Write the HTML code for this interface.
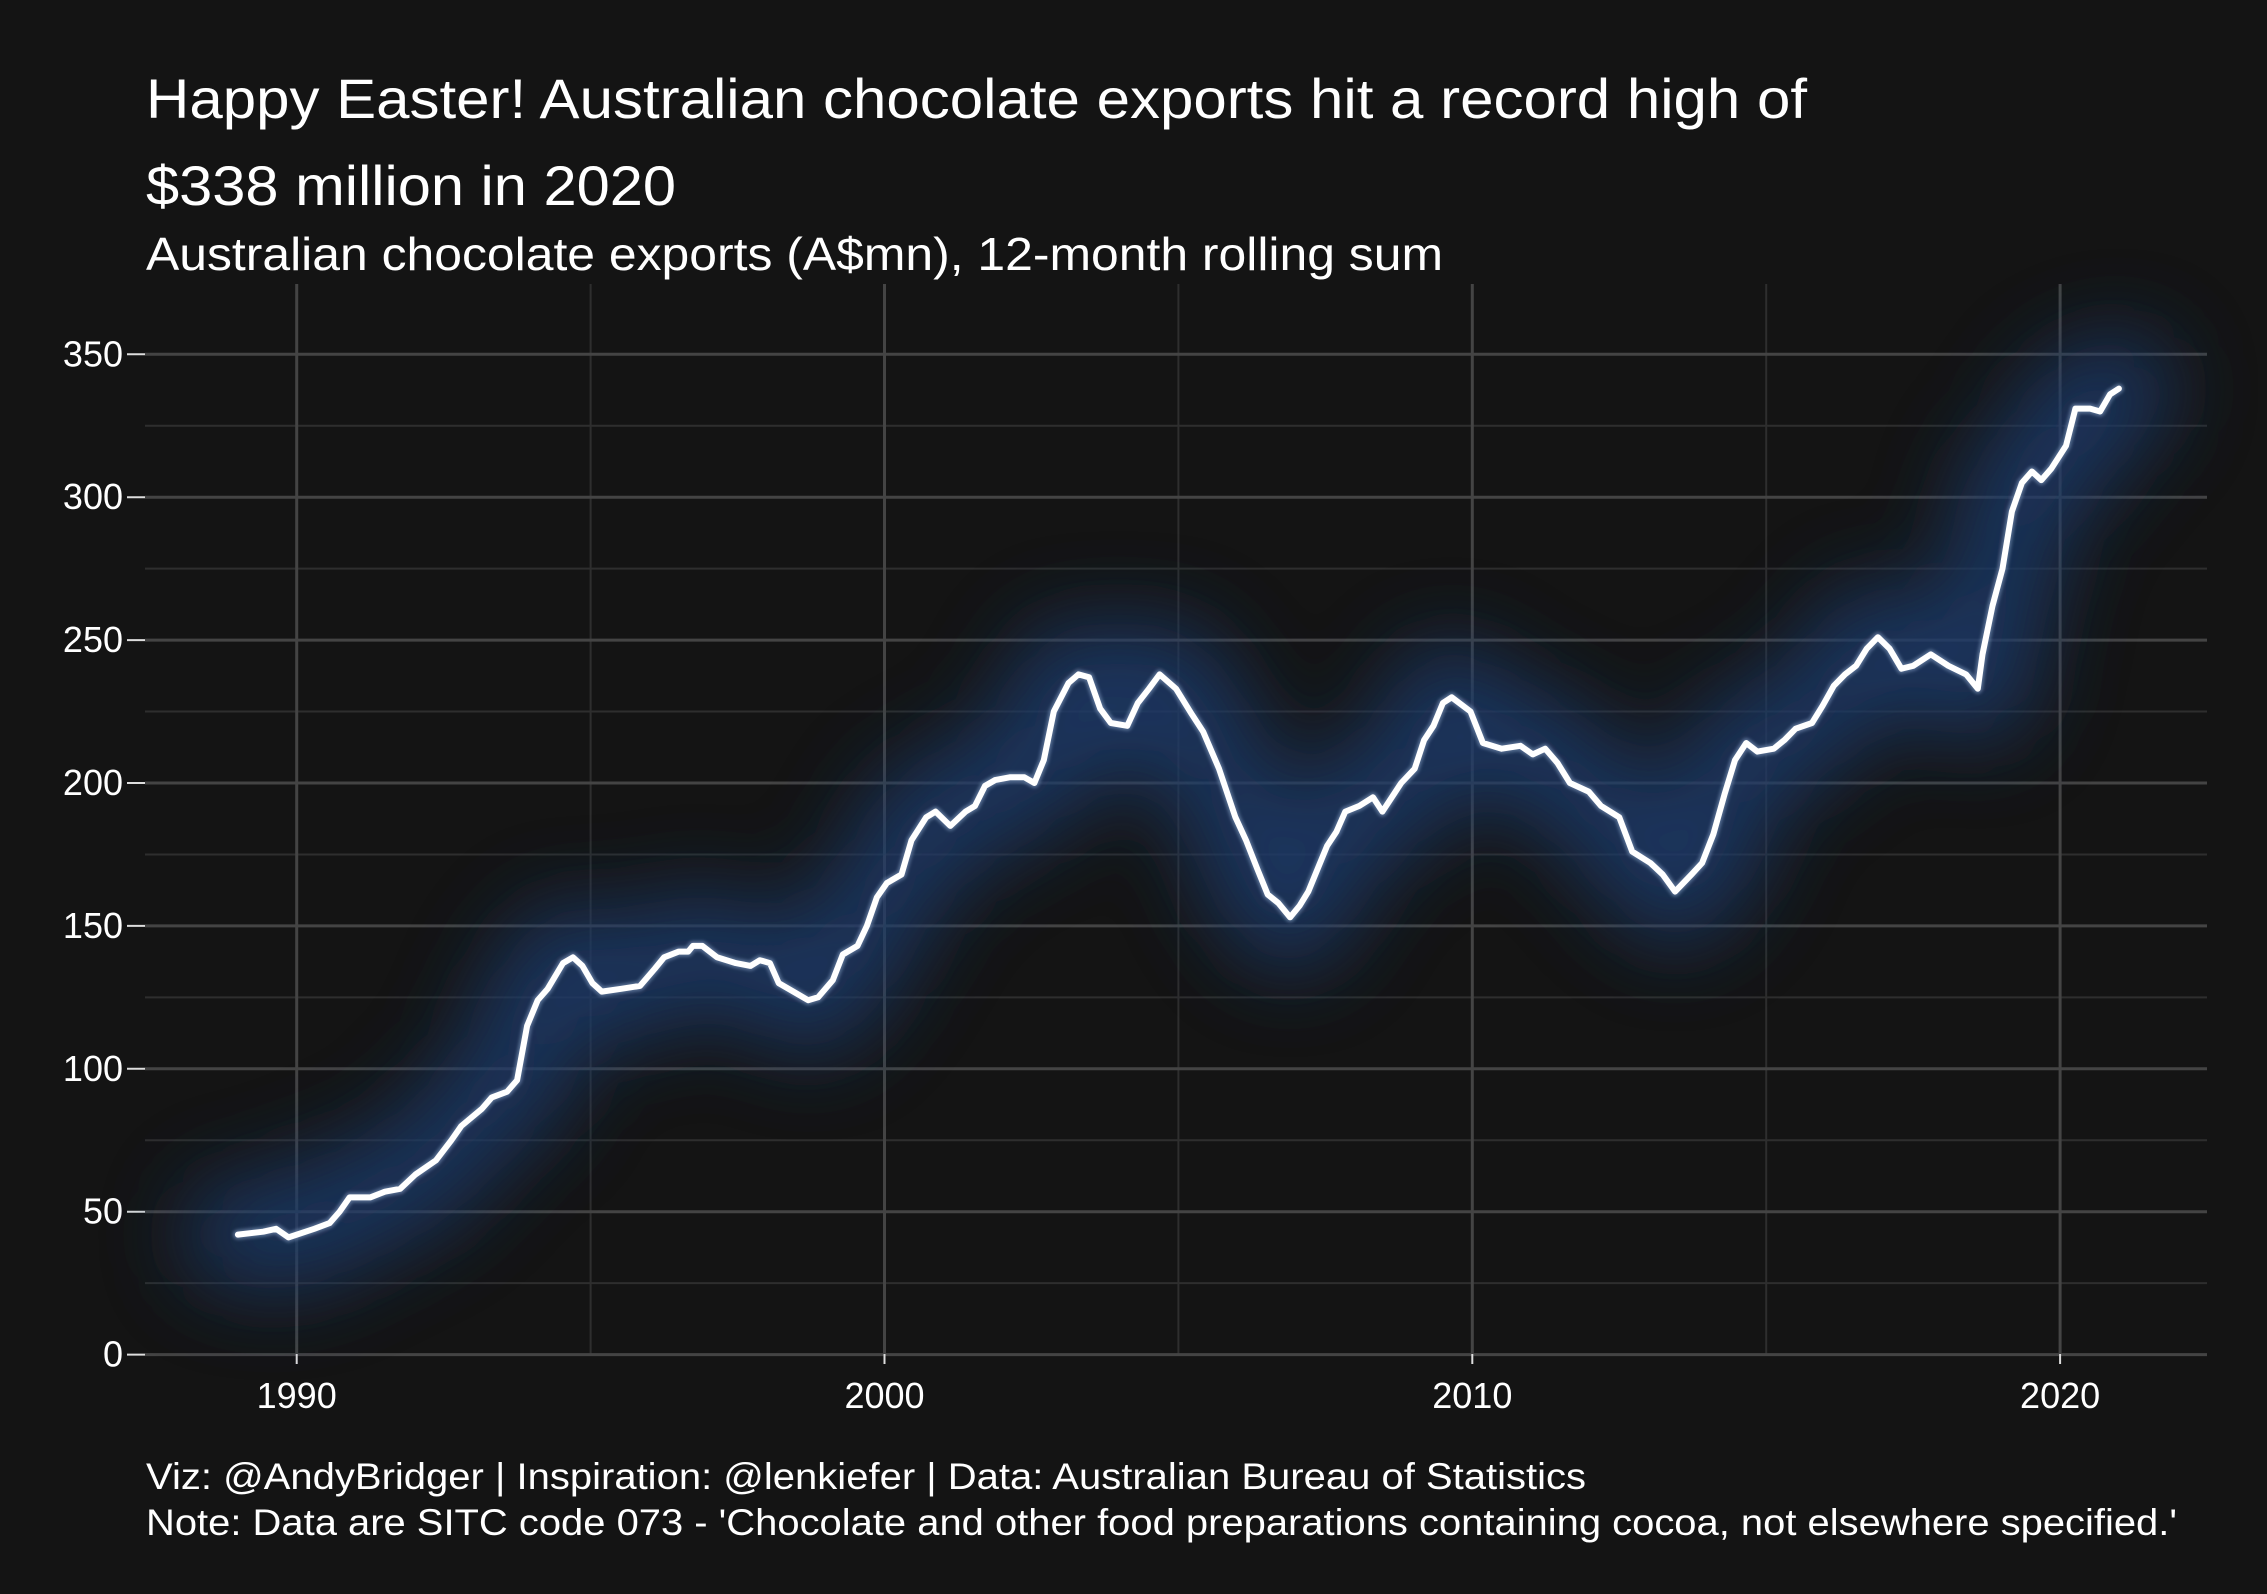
<!DOCTYPE html>
<html><head><meta charset="utf-8"><style>
html,body{margin:0;padding:0;background:#141414;}
svg{display:block;font-family:"Liberation Sans",Arial,sans-serif;}
</style></head><body>
<svg id="chart" width="2267" height="1594" viewBox="0 0 2267 1594" xmlns="http://www.w3.org/2000/svg">
<defs>
<filter id="glow" x="-20%" y="-50%" width="140%" height="200%"><feGaussianBlur stdDeviation="42"/></filter>
<filter id="soft" x="-5%" y="-5%" width="110%" height="110%"><feGaussianBlur stdDeviation="1.5"/></filter>
</defs>
<rect x="0" y="0" width="2267" height="1594" fill="#141414"/>
<text x="146" y="118" fill="#ffffff" font-size="56" textLength="1661" lengthAdjust="spacingAndGlyphs">Happy Easter! Australian chocolate exports hit a record high of</text>
<text x="146" y="205" fill="#ffffff" font-size="56" textLength="530" lengthAdjust="spacingAndGlyphs">$338 million in 2020</text>
<text x="146" y="270" fill="#ffffff" font-size="46" textLength="1297" lengthAdjust="spacingAndGlyphs">Australian chocolate exports (A$mn), 12-month rolling sum</text>
<g id="grid"></g>
<g id="axes"></g>
<g id="series"></g>
<text x="146" y="1489" fill="#ffffff" font-size="37" textLength="1440" lengthAdjust="spacingAndGlyphs">Viz: @AndyBridger | Inspiration: @lenkiefer | Data: Australian Bureau of Statistics</text>
<text x="146" y="1535" fill="#ffffff" font-size="37" textLength="2031" lengthAdjust="spacingAndGlyphs">Note: Data are SITC code 073 - 'Chocolate and other food preparations containing cocoa, not elsewhere specified.'</text>
</svg>
<script>
const years = [1989.0,1989.43,1989.65,1989.86,1990.3,1990.56,1990.73,1990.9,1991.25,1991.5,1991.76,1992.02,1992.37,1992.63,1992.8,1993.15,1993.32,1993.58,1993.75,1993.92,1994.1,1994.27,1994.53,1994.7,
1994.86,1995.03,1995.19,1995.52,1995.84,1996.09,1996.25,1996.5,1996.66,1996.74,1996.9,1997.15,1997.47,1997.72,1997.88,1998.05,1998.2,1998.45,1998.7,
1998.87,1999.12,1999.29,1999.54,1999.7,1999.87,2000.04,2000.29,2000.46,2000.71,2000.87,2001.12,2001.38,2001.54,2001.71,2001.88,2002.13,2002.38,2002.55,2002.71,2002.88,2003.13,2003.3,
2003.48,2003.67,2003.85,2004.13,2004.31,2004.5,2004.68,2004.96,2005.23,2005.42,2005.69,2005.97,2006.15,2006.34,2006.52,2006.7,2006.9,
2007.06,2007.21,2007.37,2007.53,2007.69,2007.84,2008.08,2008.31,2008.47,2008.63,2008.79,2009.02,2009.18,2009.34,2009.5,2009.65,
2009.97,2010.18,2010.5,2010.82,2011.03,2011.24,2011.45,2011.66,2011.98,2012.19,2012.5,2012.72,2013.03,2013.24,2013.45,
2013.73,2013.91,2014.1,2014.29,2014.47,2014.66,2014.85,2015.13,2015.31,2015.5,2015.78,2015.96,2016.15,2016.34,2016.53,2016.71,2016.9,
2017.1,2017.3,2017.5,2017.8,2018.1,2018.4,2018.6,
2018.68,2018.85,2019.02,2019.18,2019.35,2019.52,2019.68,2019.85,2020.1,2020.26,2020.51,2020.68,2020.85,2021.0];
const exportsValues = [42,43,44,41,44,46,50,55,55,57,58,63,68,75,80,86,90,92,96,115,124,128,137,139,
136,130,127,128,129,135,139,141,141,143,143,139,137,136,138,137,130,127,124,
125,131,140,143,150,160,165,168,180,188,190,185,190,192,199,201,202,202,200,208,225,235,238,
237,226,221,220,228,233,238,233,224,218,205,188,180,170,161,158,153,
157,162,170,178,183,190,192,195,190,195,200,205,215,220,228,230,
225,214,212,213,210,212,207,200,197,192,188,176,172,168,162,
168,172,182,196,208,214,211,212,215,219,221,227,234,238,241,247,251,
247,240,241,245,241,238,233,
245,262,275,295,305,309,306,310,318,331,331,330,336,338];
const yTicks = [0,50,100,150,200,250,300,350];
const yMinor = [25,75,125,175,225,275,325];
const xTicks = [1990,2000,2010,2020];
const xMinor = [1995,2005,2015];

const NS="http://www.w3.org/2000/svg";
const L=145,R=2207,T=284,B=1356;
const xScale = yr => 296.7 + (yr-1990)*58.78;
const yScale = v => 1354.6 - v*2.858;
function mk(tag,attrs,parent){const e=document.createElementNS(NS,tag);for(const k in attrs)e.setAttribute(k,attrs[k]);parent.appendChild(e);return e;}
const grid=document.getElementById('grid'),axes=document.getElementById('axes'),series=document.getElementById('series');

yMinor.forEach(v=>{const e=mk('line',{x1:L,x2:R,y1:yScale(v),y2:yScale(v),stroke:'#2e2e2e','stroke-width':2},grid);

});
xMinor.forEach(v=>{const e=mk('line',{x1:xScale(v),x2:xScale(v),y1:T,y2:B,stroke:'#2e2e2e','stroke-width':2},grid);

});
yTicks.forEach(v=>{const e=mk('line',{x1:L,x2:R,y1:yScale(v),y2:yScale(v),stroke:'#444','stroke-width':3},grid);


const t=mk('line',{x1:127,x2:L,y1:yScale(v),y2:yScale(v),stroke:'#ddd','stroke-width':2},axes);


const l=mk('text',{x:123,y:yScale(v)+12,'text-anchor':'end',fill:'#fff','font-size':36},axes);
l.textContent=v;

});
xTicks.forEach(v=>{const e=mk('line',{x1:xScale(v),x2:xScale(v),y1:T,y2:B,stroke:'#444','stroke-width':3},grid);


const t=mk('line',{x1:xScale(v),x2:xScale(v),y1:B-2,y2:1364,stroke:'#ddd','stroke-width':2},axes);


const l=mk('text',{x:xScale(v),y:1408,'text-anchor':'middle',fill:'#fff','font-size':36},axes);
l.textContent=v;

});

const d = years.map((y,i)=>(i?'L':'M')+xScale(y).toFixed(1)+','+yScale(exportsValues[i]).toFixed(1)).join(' ');
const g=mk('path',{d:d,fill:'none',stroke:'#1b3a6a','stroke-width':110,'stroke-linejoin':'round','stroke-linecap':'round',filter:'url(#glow)',opacity:0.85},series);


const g2=mk('path',{d:d,fill:'none',stroke:'#8fa8cc','stroke-width':10,'stroke-linejoin':'round','stroke-linecap':'round',filter:'url(#soft)',opacity:0.5},series);


const ln=mk('path',{d:d,fill:'none',stroke:'#ffffff','stroke-width':6,'stroke-linejoin':'round','stroke-linecap':'round'},series);


</script>
</body></html>
